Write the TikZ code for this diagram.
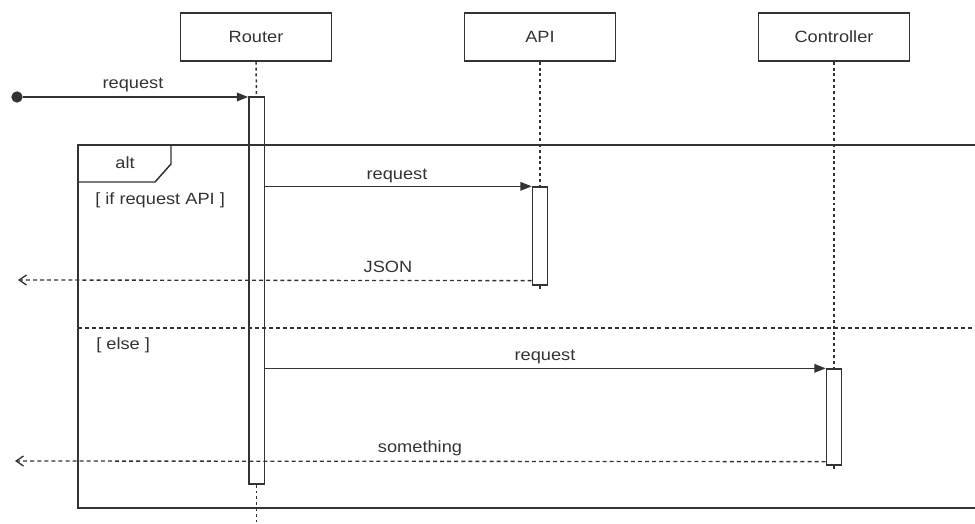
\documentclass[tikz,border=0pt]{standalone}
\usepackage{fontspec}
\usepackage{graphicx}
\setmainfont{Liberation Sans}
\usetikzlibrary{arrows.meta}
\definecolor{ink}{HTML}{333333}
\newcommand\wide[1]{\scalebox{1.12}[1]{#1}}

\begin{document}
\begin{tikzpicture}[x=0.75pt,y=-0.75pt,
  txt/.style={font=\fontsize{12.2}{14}\selectfont, text=ink, inner sep=0pt},
  party/.style={txt, draw=ink, line width=1.1pt, minimum width=113.5pt, minimum height=36pt},
  act/.style={draw=ink, fill=white, line width=1pt, minimum width=11.5pt, inner sep=0pt},
  life/.style={draw=ink, line width=1.1pt, dash pattern=on 2.2pt off 2.2pt},
  msg/.style={draw=ink, line width=1pt, -{Triangle[length=8.5pt,width=6.5pt]}},
  ret/.style={draw=ink, line width=1pt, dash pattern=on 3pt off 2.3pt,
              -{Straight Barb[length=5.5pt,width=7.5pt,line width=1pt]}},
  frame/.style={draw=ink, line width=1.1pt},
  sep/.style={draw=ink, line width=1.1pt, dash pattern=on 3pt off 2.3pt}]

\useasboundingbox (0,0) rectangle (975,524);
\clip (0,0) rectangle (975,524);

% participants
\node[party] (router) at (256,37)  {\wide{Router}};
\node[party] (api)    at (540,37)  {\wide{API}};
\node[party] (ctrl)   at (834,37)  {\wide{Controller}};

% activation bars
\node[act, minimum height=290.25pt] (ra) at (256.5,290.5) {};
\node[act, minimum height=73.5pt]   (aa) at (540,236)     {};
\node[act, minimum height=72pt]     (ca) at (834,417)     {};

% lifelines
\coordinate (rend) at (256.5,522);
\coordinate (aend) at (540,290);
\coordinate (cend) at (834,469);
\draw[life] (router.south) -- (ra.north);
\draw[life] (ra.south) -- (rend);
\draw[life] (api.south) -- (aa.north);
\draw[life] (aa.south) -- (aend);
\draw[life] (ctrl.south) -- (ca.north);
\draw[life] (ca.south) -- (cend);

% combined fragment "alt"
\draw[frame] (990,145) -- (78,145) -- (78,508) -- (990,508);
\draw[frame] (78,182) -- (155,182) -- (171,164) -- (171,145);
\node[txt] (alttag) at (125,163) {\wide{alt}};
\node[txt, anchor=west] (g1) at (95,200) {\wide{[ if request API ]}};
\draw[sep] (78,328) -- (990,328);
\node[txt, anchor=west] (g2) at (96,345) {\wide{[ else ]}};

% start point and incoming request
\node[circle, fill=ink, minimum size=8.5pt, inner sep=0pt] (start) at (17,97) {};
\draw[msg] (start) -- (start -| ra.west);
\node[txt] (l1) at (133,85) {\wide{request}};

% request to API and its reply
\draw[msg] (aa.north west -| ra.east) -- (aa.north west);
\node[txt] (l2) at (397,176) {\wide{request}};
\coordinate (jfrom) at ([yshift=3.75pt]aa.south west);
\coordinate (jend) at (18,280);
\draw[ret] (jfrom) -- (jend);
\node[txt] (l3) at (388,267) {\wide{JSON}};

% request to Controller and its reply
\draw[msg] (ca.north west -| ra.east) -- (ca.north west);
\node[txt] (l4) at (545,357) {\wide{request}};
\coordinate (sfrom) at ([yshift=3pt]ca.south west);
\coordinate (send) at (15,461);
\draw[ret] (sfrom) -- (send);
\node[txt] (l5) at (420,448) {\wide{something}};
\end{tikzpicture}
\end{document}
